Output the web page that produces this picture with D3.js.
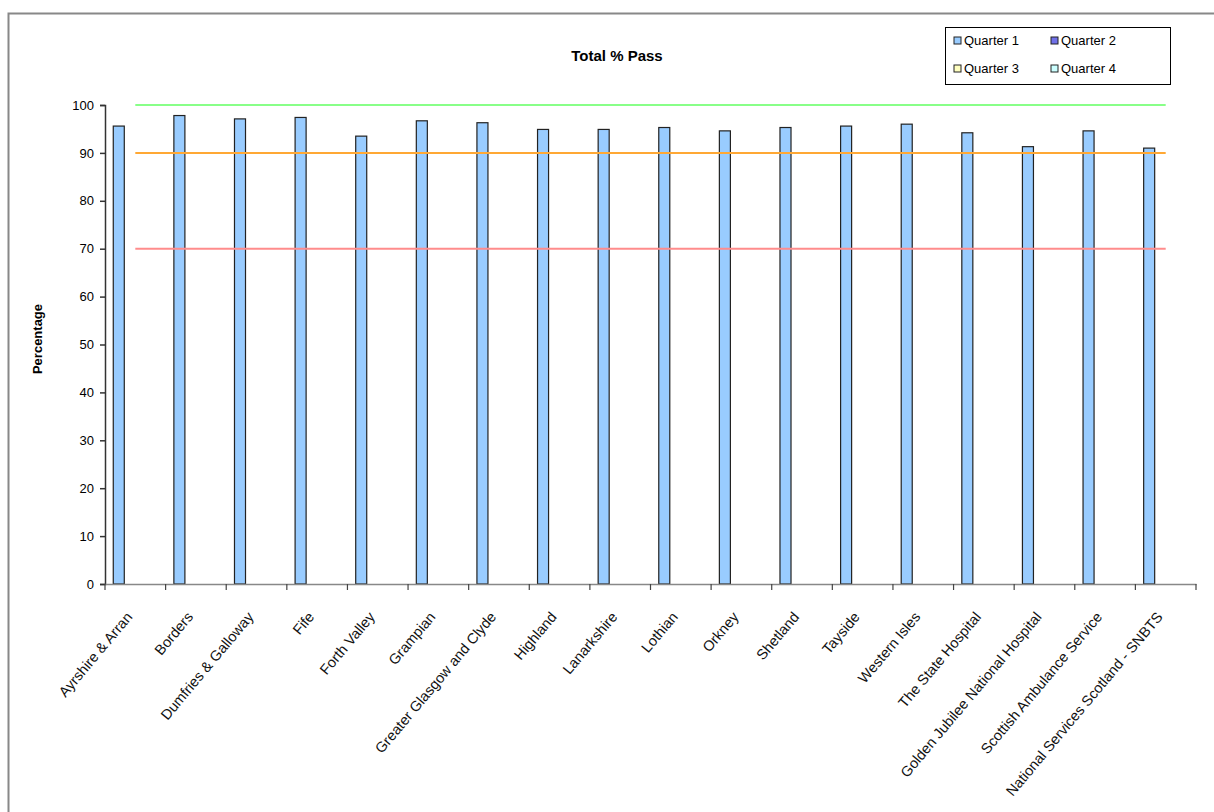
<!DOCTYPE html>
<html>
<head>
<meta charset="UTF-8">
<title>Total % Pass</title>
<style>
    body { margin: 0; background: #fff; }
    svg { display: block; font-family: "Liberation Sans", Arial, sans-serif; }
    .tick text { font-size: 13px; fill: #000; }
    .xlab .tick text { font-size: 14.5px; fill: #111; }
</style>
</head>
<body>
<div id="chart"></div>
<script src="https://cdn.jsdelivr.net/npm/d3@7"></script>
<script>
// data
const boards = ["Ayrshire & Arran", "Borders", "Dumfries & Galloway", "Fife", "Forth Valley",
    "Grampian", "Greater Glasgow and Clyde", "Highland", "Lanarkshire", "Lothian", "Orkney",
    "Shetland", "Tayside", "Western Isles", "The State Hospital", "Golden Jubilee National Hospital",
    "Scottish Ambulance Service", "National Services Scotland - SNBTS"];
const quarter1 = [95.6, 97.8, 97.1, 97.4, 93.5, 96.7, 96.3, 94.9, 94.9, 95.3, 94.6, 95.3,
    95.6, 96.0, 94.2, 91.3, 94.6, 91.0];
const seriesNames = ["Quarter 1", "Quarter 2", "Quarter 3", "Quarter 4"];
const seriesColors = ["#99ccff", "#7070e8", "#ffffc0", "#ccffff"];
const targetLines = [
    {value: 100, color: "#88ff88"},
    {value: 90, color: "#ffa834"},
    {value: 70, color: "#ff8c8c"}
];
const yTicks = [0, 10, 20, 30, 40, 50, 60, 70, 80, 90, 100];

const W = 1214, H = 812;
const margin = {left: 105, right: 18, top: 105, bottom: 228};

let svg = d3.select("#chart").append("svg")
    .attr("width", W)
    .attr("height", H);

// chart area frame (right/bottom sit off the page)
svg.append("rect")
    .attr("x", 8.5).attr("y", 13.5)
    .attr("width", W + 10).attr("height", H + 10)
    .attr("fill", "none")
    .attr("stroke", "#888")
    .attr("stroke-width", 2);

let x = d3.scaleBand()
    .domain(boards)
    .range([margin.left, W - margin.right]);

let xs = d3.scaleBand()
    .domain(seriesNames)
    .range([0, x.bandwidth()])
    .paddingOuter(0.75);

let y = d3.scaleLinear()
    .domain([0, 100])
    .range([H - margin.bottom, margin.top]);

// bars (only Quarter 1 has data)
svg.append("g")
    .selectAll("rect")
    .data(quarter1)
    .enter()
    .append("rect")
    .attr("x", (d, i) => x(boards[i]) + xs("Quarter 1"))
    .attr("y", d => y(d))
    .attr("width", xs.bandwidth())
    .attr("height", d => y(0) - y(d))
    .attr("fill", seriesColors[0])
    .attr("stroke", "#222")
    .attr("stroke-width", 1.2);

// target lines, from first to last category centre
let line = d3.line()
    .x(d => d[0])
    .y(d => d[1]);

svg.append("g")
    .selectAll("path")
    .data(targetLines)
    .enter()
    .append("path")
    .attr("d", t => line(boards.map(b => [x(b) + x.bandwidth() / 2, y(t.value)])))
    .attr("fill", "none")
    .attr("stroke", t => t.color)
    .attr("stroke-width", 2);

// y axis
let yAxis = svg.append("g")
    .attr("transform", "translate(" + margin.left + ",0)")
    .call(d3.axisLeft(y).tickValues(yTicks).tickSize(5).tickPadding(6));
yAxis.select(".domain").attr("stroke", "#333").attr("stroke-width", 1.5);
yAxis.selectAll(".tick line").attr("stroke", "#333").attr("stroke-width", 1.5);

// x axis
let xAxis = svg.append("g")
    .attr("class", "xlab")
    .attr("transform", "translate(0," + y(0) + ")")
    .call(d3.axisBottom(x).tickSize(0).tickPadding(0));
xAxis.select(".domain").attr("stroke", "#888").attr("stroke-width", 1.5);
xAxis.selectAll(".tick text")
    .attr("text-anchor", "end")
    .attr("transform", "translate(-6,30) rotate(-50)")
    .attr("dy", "0.35em")
    .attr("y", 0);

// band boundary ticks
svg.append("g")
    .selectAll("line")
    .data(boards.concat(["end"]))
    .enter()
    .append("line")
    .attr("x1", (d, i) => i < boards.length ? x(d) : x(boards[boards.length - 1]) + x.bandwidth())
    .attr("x2", (d, i) => i < boards.length ? x(d) : x(boards[boards.length - 1]) + x.bandwidth())
    .attr("y1", y(0))
    .attr("y2", y(0) + 6)
    .attr("stroke", "#444")
    .attr("stroke-width", 1.2);

// title
svg.append("text")
    .attr("x", 617).attr("y", 61)
    .attr("text-anchor", "middle")
    .attr("font-size", 15)
    .attr("font-weight", "bold")
    .text("Total % Pass");

// y label
svg.append("text")
    .attr("transform", "translate(42,339) rotate(-90)")
    .attr("text-anchor", "middle")
    .attr("font-size", 13)
    .attr("font-weight", "bold")
    .text("Percentage");

// legend
let legend = svg.append("g").attr("transform", "translate(945,27)");
legend.append("rect")
    .attr("x", 0.5).attr("y", 0.5)
    .attr("width", 225).attr("height", 57)
    .attr("fill", "#fff")
    .attr("stroke", "#000");

let item = legend.selectAll("g.item")
    .data(seriesNames)
    .enter()
    .append("g")
    .attr("class", "item")
    .attr("transform", (d, i) => "translate(" + (9 + (i % 2) * 97) + "," + (9 + Math.floor(i / 2) * 28) + ")");
item.append("rect")
    .attr("width", 7).attr("height", 7)
    .attr("y", 1)
    .attr("fill", (d, i) => seriesColors[i])
    .attr("stroke", "#222");
item.append("text")
    .attr("x", 10).attr("y", 9)
    .attr("font-size", 13)
    .text(d => d);
</script>
</body>
</html>
